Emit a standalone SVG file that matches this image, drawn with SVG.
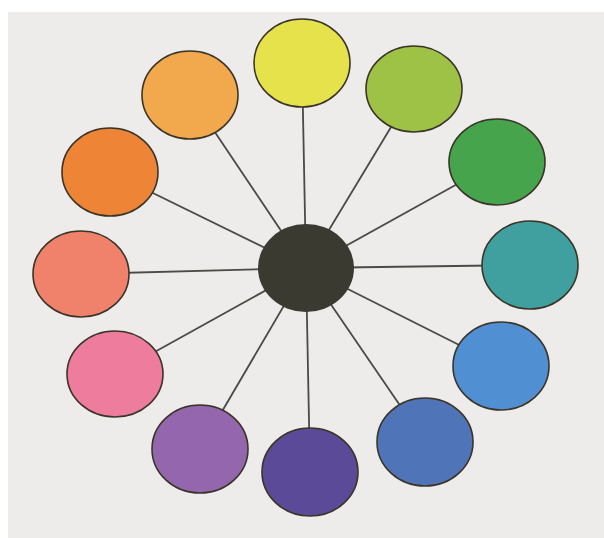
<svg xmlns="http://www.w3.org/2000/svg" width="604" height="538" viewBox="0 0 604 538">
<style>
.c{stroke:#3a3528;stroke-width:1.6}
.l{stroke:#4a4a46;stroke-width:1.8}
</style>
<rect width="604" height="538" fill="#ffffff"/>
<rect x="8" y="12" width="596" height="526" fill="#eeecea"/>
<g id="connectors">
<line class="l" x1="306" y1="268" x2="302" y2="63"/>
<line class="l" x1="306" y1="268" x2="414" y2="89"/>
<line class="l" x1="306" y1="268" x2="497" y2="162"/>
<line class="l" x1="306" y1="268" x2="530" y2="265"/>
<line class="l" x1="306" y1="268" x2="501" y2="366"/>
<line class="l" x1="306" y1="268" x2="425" y2="442"/>
<line class="l" x1="306" y1="268" x2="310" y2="472"/>
<line class="l" x1="306" y1="268" x2="200" y2="449"/>
<line class="l" x1="306" y1="268" x2="115" y2="374"/>
<line class="l" x1="306" y1="268" x2="81" y2="274"/>
<line class="l" x1="306" y1="268" x2="110" y2="172"/>
<line class="l" x1="306" y1="268" x2="190" y2="95"/>
</g>
<g id="yellow"><ellipse class="c" cx="302" cy="63" rx="48" ry="44" fill="#e6e24c"/></g>
<g id="yellow-green"><ellipse class="c" cx="414" cy="89" rx="48" ry="43" fill="#9dc246"/></g>
<g id="green"><ellipse class="c" cx="497" cy="162" rx="48" ry="43" fill="#45a44c"/></g>
<g id="teal"><ellipse class="c" cx="530" cy="265" rx="48" ry="44" fill="#40a0a0"/></g>
<g id="light-blue"><ellipse class="c" cx="501" cy="366" rx="48" ry="44" fill="#5090d2"/></g>
<g id="blue"><ellipse class="c" cx="425" cy="442" rx="48" ry="44" fill="#5074b8"/></g>
<g id="indigo"><ellipse class="c" cx="310" cy="472" rx="48" ry="44" fill="#5a4a98"/></g>
<g id="purple"><ellipse class="c" cx="200" cy="449" rx="48" ry="44" fill="#9466ae"/></g>
<g id="pink"><ellipse class="c" cx="115" cy="374" rx="48" ry="43" fill="#ee7c9c"/></g>
<g id="salmon"><ellipse class="c" cx="81" cy="274" rx="48" ry="43" fill="#f0826c"/></g>
<g id="orange"><ellipse class="c" cx="110" cy="172" rx="48" ry="44" fill="#ee8536"/></g>
<g id="light-orange"><ellipse class="c" cx="190" cy="95" rx="48" ry="44" fill="#f2a84c"/></g>
<g id="center"><ellipse cx="306" cy="268" rx="48" ry="44" fill="#3a3a30"/></g>
</svg>
